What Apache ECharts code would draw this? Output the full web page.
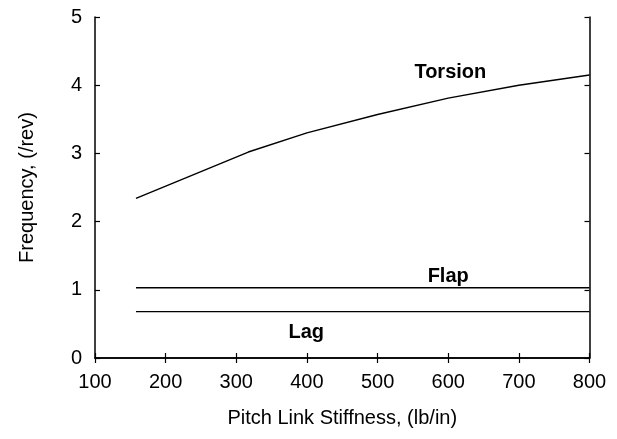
<!DOCTYPE html>
<html>
<head>
<meta charset="utf-8">
<script src="https://cdn.jsdelivr.net/npm/echarts@6/dist/echarts.min.js"></script>
<style>html,body{margin:0;padding:0;background:#fff}#c{width:617px;height:439px}</style>
</head>
<body>
<div id="c"></div>
<script>
var xTicks = [100, 200, 300, 400, 500, 600, 700, 800];
var yTicks = [0, 1, 2, 3, 4, 5];
var torsionX = [158, 317, 400, 500, 600, 700, 800];
var torsionY = [2.34, 3.02, 3.30, 3.57, 3.81, 4.00, 4.15];
var flapX = [158, 800];
var flapY = [1.03, 1.03];
var lagX = [158, 800];
var lagY = [0.68, 0.68];
var labelNames = ['Torsion', 'Flap', 'Lag'];
var labelX = [603, 600, 399];
var labelY = [4.19, 1.19, 0.38];

function pairs(xs, ys) { return xs.map(function (x, i) { return [x, ys[i]]; }); }

var FONT = 'Liberation Sans, Arial, Helvetica, sans-serif';
var chart = echarts.init(document.getElementById('c'), null, {renderer: 'canvas'});
var axisLine = {show: true, lineStyle: {color: '#000', width: 1.5}};
var tick = {show: true, inside: true, length: 5, lineStyle: {color: '#000', width: 1.2}};
var lineStyle = {color: '#000', width: 1.4};

chart.setOption({
  animation: false,
  backgroundColor: '#fff',
  grid: {left: 95, right: 27.5, top: 17, bottom: 81, containLabel: false},
  xAxis: [{
    type: 'value', min: xTicks[0], max: xTicks[xTicks.length - 1], interval: 100,
    position: 'bottom',
    name: 'Pitch Link Stiffness, (lb/in)', nameLocation: 'middle', nameGap: 50,
    nameTextStyle: {fontFamily: FONT, fontSize: 20, color: '#000'},
    axisLine: axisLine, axisTick: tick, splitLine: {show: false},
    axisLabel: {fontFamily: FONT, fontSize: 20, color: '#000', margin: 14}
  }, {
    type: 'value', min: xTicks[0], max: xTicks[xTicks.length - 1], interval: 100,
    position: 'top', axisLine: axisLine, axisTick: tick, splitLine: {show: false},
    axisLabel: {show: false}
  }],
  yAxis: [{
    type: 'value', min: yTicks[0], max: yTicks[yTicks.length - 1], interval: 1,
    position: 'left',
    name: 'Frequency, (/rev)', nameLocation: 'middle', nameGap: 58,
    nameTextStyle: {fontFamily: FONT, fontSize: 20, color: '#000'},
    axisLine: axisLine, axisTick: tick, splitLine: {show: false},
    axisLabel: {fontFamily: FONT, fontSize: 20, color: '#000', margin: 13}
  }, {
    type: 'value', min: yTicks[0], max: yTicks[yTicks.length - 1], interval: 1,
    position: 'right', axisLine: axisLine, axisTick: tick, splitLine: {show: false},
    axisLabel: {show: false}
  }],
  series: [
    {type: 'line', name: 'Torsion', data: pairs(torsionX, torsionY), showSymbol: false, symbol: 'none', lineStyle: lineStyle},
    {type: 'line', name: 'Flap', data: pairs(flapX, flapY), showSymbol: false, symbol: 'none', lineStyle: lineStyle},
    {type: 'line', name: 'Lag', data: pairs(lagX, lagY), showSymbol: false, symbol: 'none', lineStyle: lineStyle},
    {type: 'scatter', symbolSize: 0, silent: true, itemStyle: {opacity: 1, color: '#000'},
      data: labelNames.map(function (n, i) { return {name: n, value: [labelX[i], labelY[i]]}; }),
      label: {show: true, position: 'inside', formatter: '{b}', fontFamily: FONT, fontWeight: 'bold', fontSize: 20, color: '#000', opacity: 1, textBorderWidth: 0}
    }
  ]
});
</script>
</body>
</html>
